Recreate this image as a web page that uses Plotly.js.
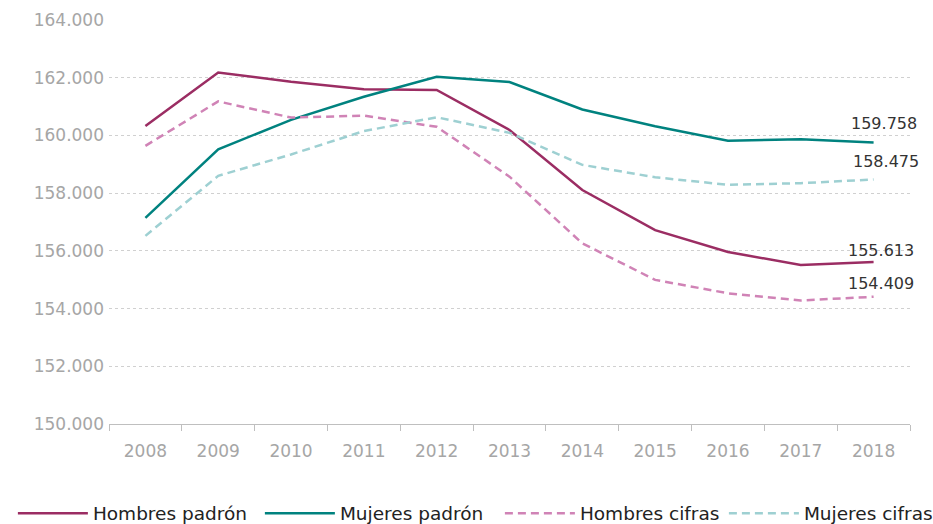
<!DOCTYPE html>
<html><head><meta charset="utf-8">
<script src="https://cdn.plot.ly/plotly-3.0.1.min.js"></script>
<style>html,body{margin:0;padding:0;overflow:hidden;background:#fff}#chart{width:933px;height:524px}</style>
</head><body><div id="chart"></div>
<script>
const years = ['2008','2009','2010','2011','2012','2013','2014','2015','2016','2017','2018'];
const hombresPadron = [160330,162180,161860,161600,161575,160190,158110,156720,155960,155510,155613];
const mujeresPadron = [157140,159520,160540,161340,162035,161850,160900,160320,159815,159865,159758];
const hombresCifras = [159640,161180,160620,160685,160300,158570,156260,154995,154530,154280,154409];
const mujeresCifras = [156520,158600,159340,160150,160630,160090,158980,158550,158290,158345,158475];
const names = ['Hombres padrón','Mujeres padrón','Hombres cifras','Mujeres cifras'];
const yTicks = [150000,152000,154000,156000,158000,160000,162000,164000];

function fmt(v){ return String(v).replace(/\B(?=(\d{3})+(?!\d))/g, '.'); }
const font = 'DejaVu Sans, sans-serif';
const traces = [
  {x: years, y: hombresPadron, name: names[0], type:'scatter', mode:'lines', line:{color:'#9b2d63', width:2.5}, legend:'legend'},
  {x: years, y: mujeresPadron, name: names[1], type:'scatter', mode:'lines', line:{color:'#00827f', width:2.5}, legend:'legend'},
  {x: years, y: hombresCifras, name: names[2], type:'scatter', mode:'lines', line:{color:'#d083b6', width:2.5, dash:'8px,5px'}, legend:'legend2'},
  {x: years, y: mujeresCifras, name: names[3], type:'scatter', mode:'lines', line:{color:'#9ed0d2', width:2.5, dash:'8px,5px'}, legend:'legend2'}
];
const series = [hombresPadron, mujeresPadron, hombresCifras, mujeresCifras];
const last = years.length - 1;
const yShifts = [12, 19, 13, 18];
const xShifts = [7, 10, 7, 12];
const ann = series.map((s, i) => ({
  x: last, y: s[last], xref:'x', yref:'y', showarrow:false,
  text: fmt(s[last]), yshift: yShifts[i], xshift: xShifts[i],
  font:{family:font, size:16, color:'#333'}
}));
const legFont = {family:font, size:18.5, color:'#222'};
const layout = {
  width: 933, height: 524,
  margin: {l:109, r:23, t:20, b:100, autoexpand:false},
  paper_bgcolor:'#fff', plot_bgcolor:'#fff',
  showlegend: true,
  font:{family:font},
  xaxis: {type:'category', range:[-0.5,10.5], showgrid:false, showline:true, linecolor:'#bfbfbf', linewidth:1,
          ticks:'outside', tickson:'boundaries', ticklen:6, tickcolor:'#bfbfbf', ticklabelstandoff:12,
          tickfont:{family:font, size:17, color:'#a6a6a6'}, fixedrange:true},
  yaxis: {range:[150000,164000], tickvals:yTicks, ticktext:yTicks.map(fmt), showgrid:true, gridcolor:'#d0d0d0', griddash:'dot',
          zeroline:false, showline:false, tickfont:{family:font, size:17, color:'#a6a6a6'}, ticklabelstandoff:4, fixedrange:true},
  legend: {orientation:'h', x:-0.12, xanchor:'left', y:-0.222, yanchor:'middle', itemwidth:70, entrywidth:162, font:legFont, traceorder:'normal'},
  legend2: {orientation:'h', x:0.488, xanchor:'left', y:-0.222, yanchor:'middle', itemwidth:70, entrywidth:139, font:legFont, traceorder:'normal'},
  annotations: ann
};
Plotly.newPlot('chart', traces, layout, {displayModeBar:false, staticPlot:true});
</script></body></html>
